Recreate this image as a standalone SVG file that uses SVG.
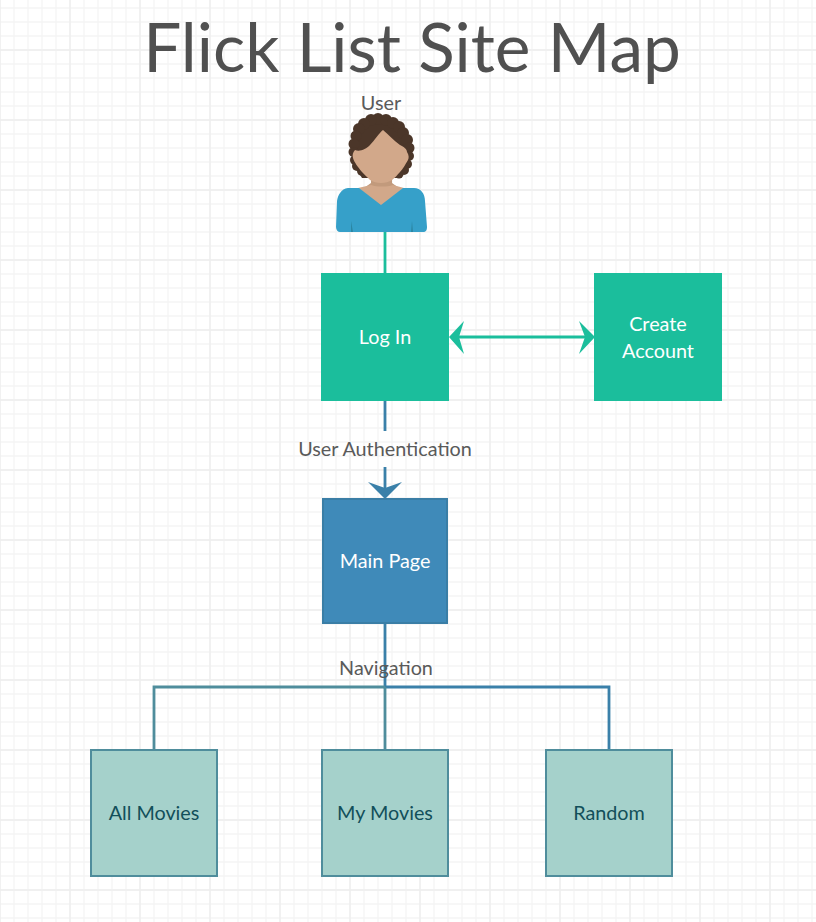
<svg xmlns="http://www.w3.org/2000/svg" width="816" height="922" viewBox="0 0 816 922">
<defs>
<style>
text{font-family:Lato,"Open Sans","Liberation Sans",sans-serif;text-anchor:middle;font-size:19.8px}
.lbl{fill:#5a5a5a}
.w{fill:#fff}
.d{fill:#124f5a}
.c{fill:none;stroke-width:2.8}
.leaf{fill:#a5d1cb;stroke:#4f8d9c;stroke-width:2}
</style>
<pattern id="minor" width="14" height="14" patternUnits="userSpaceOnUse" x="7" y="1">
<path d="M7 0V14M0 7H14" fill="none" stroke="#f5f5f5" stroke-width="1.4"/>
</pattern>
<pattern id="major" width="70" height="70" patternUnits="userSpaceOnUse" x="35" y="15">
<path d="M35 0V70M0 35H70" fill="none" stroke="#eeeeee" stroke-width="1.4"/>
</pattern>
</defs>
<rect width="816" height="922" fill="#fff"/>
<rect width="816" height="922" fill="url(#minor)"/>
<rect width="816" height="922" fill="url(#major)"/>
<text id="title" x="412" y="72" style="font-size:67.5px;fill:#505050">Flick List Site Map</text>
<g id="connectors">
<path class="c" stroke="#1bbe9c" d="M385 232V273"/>
<path class="c" stroke="#1bbe9c" d="M452 337H591"/>
<path d="M449 337L464 321L459 337L464 354Z M595 337L579 321L585 337L579 354Z" fill="#1bbe9c"/>
<path class="c" stroke="#3a80a9" d="M385 401V431M385 467V495"/>
<path d="M385 499L368 482L385 488L402 482Z" fill="#3a80a9"/>
<path class="c" stroke="#3a80a9" d="M385 624V687H609V750"/>
<path class="c" stroke="#4f8d9c" d="M385 687H154V750M385 687V750"/>
</g>
<g id="user">
<text class="lbl" x="381" y="110">User</text>
<g fill="#4b3629">
<path d="M378 118L392 120L402 126L408 137L410 150L407 165L399 178H362L354 165L353 148L355 131L365 122Z"/>
<circle cx="378" cy="119" r="6"/><circle cx="386" cy="120" r="6"/><circle cx="393" cy="123" r="6"/><circle cx="399" cy="127" r="6"/><circle cx="403" cy="133" r="6"/><circle cx="407" cy="140" r="6"/><circle cx="409" cy="148" r="5.500"/><circle cx="409" cy="156" r="5"/><circle cx="407" cy="164" r="5"/><circle cx="404" cy="170" r="5"/><circle cx="399" cy="174" r="4.500"/>
<circle cx="371" cy="120" r="6"/><circle cx="364" cy="124" r="6"/><circle cx="359" cy="129" r="6"/><circle cx="356" cy="136" r="5.500"/><circle cx="354" cy="144" r="5.500"/><circle cx="353.500" cy="152" r="5"/><circle cx="355" cy="160" r="5"/><circle cx="357" cy="166" r="5"/><circle cx="362" cy="171" r="5"/>
</g>
<path fill="#c29a7c" d="M371 172H392V183L399 188H364L371 183Z"/>
<path fill="#d2a88a" d="M358 188L371 185C377 187 387 187 393 185L404 188L381 206Z"/>
<path fill="#d2a88a" d="M355 150C360 152 366 149 370 145C375 140 379 133 383 130C388 134 394 141 400 145C404 147 407 149 407 152C409 155 409 158 408 160C405 165 403 169 400 172C397 175 395 178 392 180C386 184 376 184 370 180C367 177 364 174 362 172C358 167 354 162 353 158C352 155 353 152 355 150Z"/>
<path fill="#36a0c9" d="M348 188C341 189 338 195 337 201L336 227C336 230 338 232 340 232H423C426 232 427 230 427 227L425 201C425 194 421 188 414 188H403L381 205L359 188Z"/>
<path fill="#2b86a3" d="M351 221L353 232H351ZM412 221L413 232H411Z"/>
</g>
<g id="login"><rect x="321" y="273" width="128" height="128" fill="#1bbe9c"/><text class="w" x="385" y="344">Log In</text></g>
<g id="create"><rect x="594" y="273" width="128" height="128" fill="#1bbe9c"/><text class="w" x="658" y="331">Create</text><text class="w" x="658" y="358">Account</text></g>
<g id="auth"><text class="lbl" x="385" y="456">User Authentication</text></g>
<g id="main"><rect x="323" y="499" width="124" height="124" fill="#3f8ab9" stroke="#3a7ea6" stroke-width="2"/><text class="w" x="385" y="568">Main Page</text></g>
<g id="nav"><text class="lbl" x="386" y="675">Navigation</text></g>
<g id="all"><rect class="leaf" x="91" y="750" width="126" height="126"/><text class="d" x="154" y="820">All Movies</text></g>
<g id="my"><rect class="leaf" x="322" y="750" width="126" height="126"/><text class="d" x="385" y="820">My Movies</text></g>
<g id="random"><rect class="leaf" x="546" y="750" width="126" height="126"/><text class="d" x="609" y="820">Random</text></g>
</svg>
